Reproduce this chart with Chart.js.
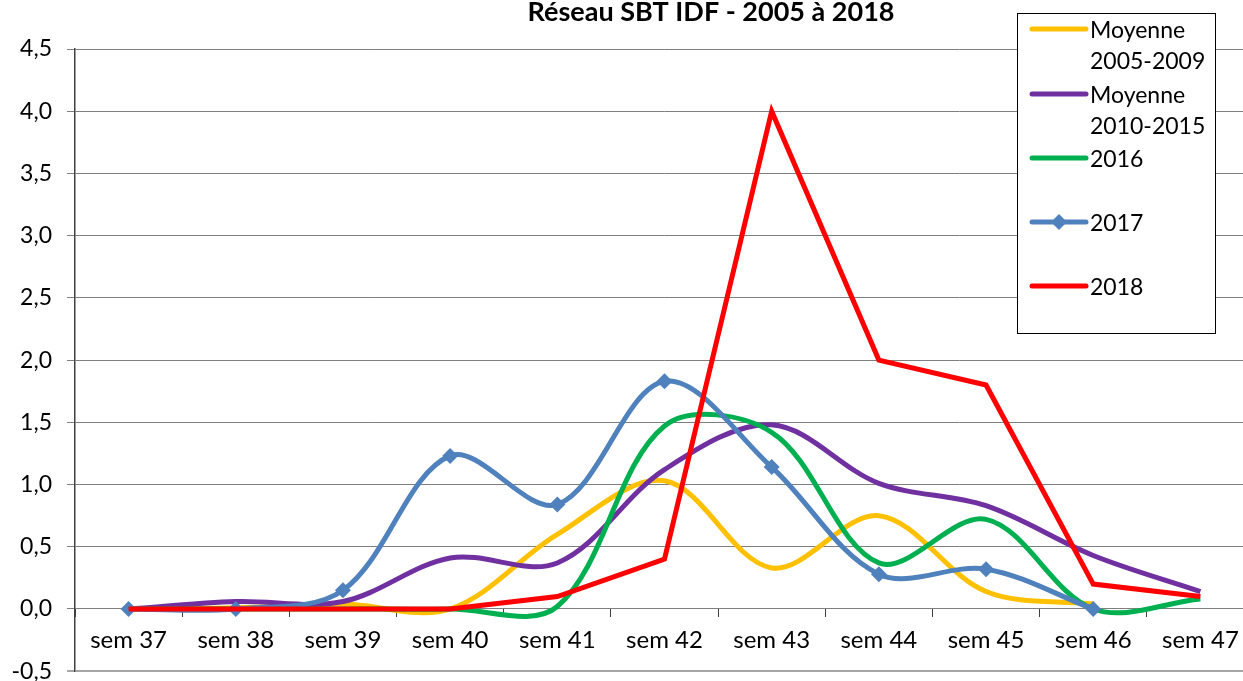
<!DOCTYPE html>
<html>
<head>
<meta charset="utf-8">
<script src="https://cdn.jsdelivr.net/npm/chart.js@4.4.0/dist/chart.umd.min.js"></script>
<style>
html,body{margin:0;padding:0;background:#fff;overflow:hidden;}
#wrap{width:1262px;height:700px;}
</style>
</head>
<body>
<div id="wrap"><canvas id="c" width="1262" height="700"></canvas></div>
<script>
const categories = ["sem 37","sem 38","sem 39","sem 40","sem 41","sem 42","sem 43","sem 44","sem 45","sem 46","sem 47"];
const moy0509 = [0, 0.01, 0.04, 0.0, 0.6, 1.03, 0.33, 0.75, 0.14, 0.04, null];
const moy1015 = [0, 0.06, 0.06, 0.41, 0.37, 1.12, 1.48, 1.01, 0.83, 0.43, 0.14];
const s2016 = [0, 0, 0, 0, 0.02, 1.47, 1.42, 0.37, 0.72, 0, 0.08];
const s2017 = [0, 0, 0.15, 1.23, 0.84, 1.83, 1.14, 0.28, 0.32, 0, null];
const s2018 = [0, 0, 0, 0, 0.1, 0.4, 4.0, 2.0, 1.8, 0.2, 0.1];
const yTicks = [-0.5, 0, 0.5, 1, 1.5, 2, 2.5, 3, 3.5, 4, 4.5];
const seriesLabels = [["Moyenne","2005-2009"],["Moyenne","2010-2015"],["2016"],["2017"],["2018"]];
const titleText = "Réseau SBT IDF - 2005 à 2018";

const FONT = "Lato";
const TENSION = 0.34;

const legendPlugin = {
  id: 'customLegend',
  afterDraw(chart) {
    const ctx = chart.ctx;
    ctx.save();
    // title
    ctx.fillStyle = '#000';
    ctx.font = "bold 27px " + FONT;
    ctx.textAlign = 'center';
    ctx.textBaseline = 'alphabetic';
    ctx.fillText(titleText, 711, 21);
    // legend box
    ctx.fillStyle = '#fff';
    ctx.fillRect(1017, 13, 198, 320);
    ctx.strokeStyle = '#000';
    ctx.lineWidth = 1;
    ctx.strokeRect(1017.5, 13.5, 198, 320);
    const rowsY = [29, 94, 158, 222, 286];
    chart.data.datasets.forEach((ds, i) => {
      const y = rowsY[i];
      ctx.strokeStyle = ds.borderColor;
      ctx.lineWidth = 5;
      ctx.lineCap = 'round';
      ctx.beginPath();
      ctx.moveTo(1032, y);
      ctx.lineTo(1086, y);
      ctx.stroke();
      if (ds.pointRadius > 0) {
        ctx.fillStyle = ds.borderColor;
        ctx.beginPath();
        ctx.moveTo(1059, y - 8);
        ctx.lineTo(1067, y);
        ctx.lineTo(1059, y + 8);
        ctx.lineTo(1051, y);
        ctx.closePath();
        ctx.fill();
      }
      ctx.fillStyle = '#000';
      ctx.font = "23px " + FONT;
      ctx.textAlign = 'left';
      ctx.textBaseline = 'middle';
      seriesLabels[i].forEach((t, k) => {
        ctx.fillText(t, 1090, y + 2 + k * 31);
      });
    });
    ctx.restore();
  }
};

const chart = new Chart(document.getElementById('c'), {
  type: 'line',
  data: {
    labels: categories,
    datasets: [
      {label: "Moyenne 2005-2009", data: moy0509, borderColor: '#FFC000', backgroundColor: '#FFC000', borderWidth: 5, pointRadius: 0, tension: TENSION, order: 4},
      {label: "Moyenne 2010-2015", data: moy1015, borderColor: '#7030A0', backgroundColor: '#7030A0', borderWidth: 5, pointRadius: 0, tension: TENSION, order: 3},
      {label: "2016", data: s2016, borderColor: '#00B050', backgroundColor: '#00B050', borderWidth: 5, pointRadius: 0, tension: TENSION, order: 2},
      {label: "2017", data: s2017, borderColor: '#4F81BD', backgroundColor: '#4F81BD', borderWidth: 5, pointRadius: 8, pointStyle: 'rectRot', pointBorderWidth: 0, pointHoverRadius: 8, tension: TENSION, order: 1},
      {label: "2018", data: s2018, borderColor: '#FF0000', backgroundColor: '#FF0000', borderWidth: 5, pointRadius: 0, tension: 0, order: 0, borderJoinStyle: 'miter'}
    ]
  },
  options: {
    responsive: false,
    animation: false,
    devicePixelRatio: 1,
    layout: {padding: {top: 49, bottom: 10, left: 0, right: 0}},
    plugins: {legend: {display: false}, title: {display: false}, tooltip: {enabled: false}},
    scales: {
      y: {
        min: -0.5, max: 4.5,
        afterBuildTicks(s) { s.ticks = yTicks.map(v => ({value: v})); },
        afterFit(s) { s.width = 75; },
        ticks: {
          color: '#000',
          font: {family: FONT, size: 23},
          padding: 15,
          callback: v => v.toFixed(1).replace('.', ',')
        },
        grid: {
          color: ctx => (ctx.tick && ctx.tick.value === -0.5) ? '#A6A6A6' : '#7F7F7F',
          lineWidth: ctx => (ctx.tick && ctx.tick.value === -0.5) ? 2 : 1,
          tickLength: 8
        },
        border: {display: true, color: '#404040', width: 1.5}
      },
      x: {
        position: {y: 0},
        offset: true,
        afterFit(s) { s.height = 0; },
        ticks: {color: '#000', font: {family: FONT, size: 24}, padding: 9, maxRotation: 0, autoSkip: false},
        grid: {offset: true, drawOnChartArea: false, tickLength: 8, color: '#404040', lineWidth: 1},
        border: {display: true, color: '#7F7F7F', width: 1}
      }
    }
  },
  plugins: [legendPlugin]
});
</script>
</body>
</html>
